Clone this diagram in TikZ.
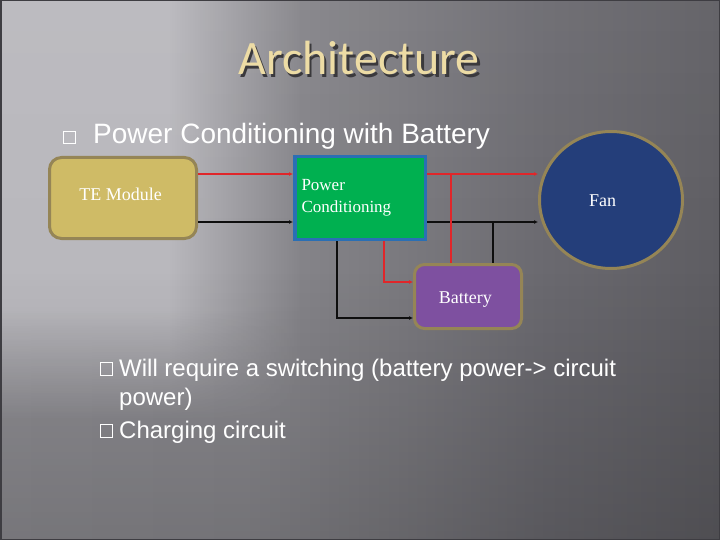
\documentclass[tikz,border=0pt]{standalone}
\usepackage{fontspec}
\setmainfont{Liberation Serif}
\newfontfamily\arialf{Liberation Sans}
\newfontfamily\titlef{Carlito}
\usetikzlibrary{arrows.meta,shapes.geometric,calc,fadings}
\definecolor{bgA}{HTML}{8E8D92}
\definecolor{bgB}{HTML}{8A898E}
\definecolor{bgC}{HTML}{7A797E}
\definecolor{bgD}{HTML}{6A696F}
\definecolor{bgE}{HTML}{5E5D62}
\definecolor{bgJoin}{HTML}{858489}
\definecolor{bglight}{HTML}{B9B8BD}
\definecolor{framec}{HTML}{3E3D42}
\definecolor{titlegold}{HTML}{EDDCA5}
\definecolor{titleshadow}{HTML}{3A393C}
\definecolor{khaki}{HTML}{958556}
\definecolor{tefill}{HTML}{CFBB66}
\definecolor{pcgreen}{HTML}{00B050}
\definecolor{pcblue}{HTML}{2A6FB4}
\definecolor{fanblue}{HTML}{243E7A}
\definecolor{batpurple}{HTML}{7E50A0}
\definecolor{wirered}{HTML}{E0262A}
\definecolor{wireblack}{HTML}{0E0E0E}
% horizontal base: bbox spans 25bp..75bp
\pgfdeclarehorizontalshading{bgshade}{100bp}{color(0bp)=(bgA); color(25bp)=(bgA); color(42bp)=(bgB); color(53bp)=(bgC); color(63bp)=(bgD); color(75bp)=(bgE); color(100bp)=(bgE)}
% light band over x = 0..300, ending in the base colour at x = 300
\pgfdeclarehorizontalshading{lightband}{100bp}{color(0bp)=(bglight); color(25bp)=(bglight); color(53bp)=(bglight); color(75bp)=(bgJoin); color(100bp)=(bgJoin)}
\begin{document}
\begin{tikzpicture}[x=1pt,y=-1pt,
  blockbox/.style={draw=khaki, line width=3pt, rounded corners=12pt},
  lbl/.style={text=white, inner sep=0pt, font=\fontsize{18}{22}\selectfont},
  bulletsq/.style={draw=white, line width=0.8pt, minimum width=12pt, minimum height=12.5pt, inner sep=0pt},
  bodytext/.style={text=white, inner sep=0pt, anchor=base west},
  redwire/.style={draw=wirered, line width=1.8pt},
  blackwire/.style={draw=wireblack, line width=1.8pt},
  tip/.style={-{Latex[length=4pt,width=4pt]}}
]
\useasboundingbox (0,0) rectangle (720,540);
% background
\shade[shading=bgshade] (0,0) rectangle (720,540);
\shade[shading=lightband] (0,0) rectangle (300,310);
\shade[shading=lightband, path fading=south] (0,310) rectangle (300,420);
\fill[white, path fading=south, fill opacity=0.05] (0,0) rectangle (720,270);
\fill[black, path fading=north, fill opacity=0.16] (0,270) rectangle (720,540);
\draw[framec, line width=3pt] (0,0) rectangle (720,540);

% title (with shadow)
\node (title)[anchor=base, inner sep=0pt, font=\titlef\fontsize{48}{54}\selectfont] at (359,75)
  {\makebox[0pt][l]{\hspace{2.5pt}\raisebox{-2.5pt}{\textcolor{titleshadow}{Architecture}}}\textcolor{titlegold}{Architecture}};

% bullet line
\node (b1)[bulletsq] at (69,137.5) {};
\node (t1)[bodytext, font=\arialf\fontsize{28}{32}\selectfont] at (93,144) {Power Conditioning with Battery};

% blocks
\node (te)[blockbox, fill=tefill, minimum width=147pt, minimum height=81pt] at (123,198) {};
\node (telbl)[lbl, anchor=base] at (120.5,201) {TE Module};
\node (pc)[draw=pcblue, line width=3.5pt, fill=pcgreen, minimum width=130.5pt, minimum height=82.5pt,
  text width=117pt, align=left, text=white, font=\fontsize{17}{22}\selectfont] at (360,198) {Power\\Conditioning};
\node (fan)[ellipse, draw=khaki, line width=3pt, fill=fanblue, minimum width=143pt, minimum height=137pt, inner sep=0pt] at (611,200) {};
\node (fanlbl)[lbl, anchor=base] at (602.5,207) {Fan};
\node (bat)[blockbox, rounded corners=10pt, fill=batpurple, minimum width=107pt, minimum height=64pt] at (468,296.5) {};
\node (batlbl)[lbl, anchor=base] at (465.3,303.3) {Battery};

% wires
\draw[redwire, tip] ([yshift=24pt]te.east) -- ([yshift=24pt]pc.west);
\draw[blackwire, tip] ([yshift=-24pt]te.east) -- ([yshift=-24pt]pc.west);
\draw[redwire, tip] ([yshift=24pt]pc.east) -- ([yshift=24pt]pc.east -| fan.west);
\draw[blackwire, tip] ([yshift=-24pt]pc.east) -- ([yshift=-24pt]pc.east -| fan.west);
\coordinate (rj) at (451,174);
\coordinate (bj) at (493,222);
\draw[redwire] (rj) -- (rj |- bat.north);
\draw[blackwire] (bj) -- (bj |- bat.north);
\draw[redwire, tip] (384,0 |- pc.south) |- ([yshift=14.5pt]bat.west);
\draw[blackwire, tip] (337,0 |- pc.south) |- ([yshift=-21.5pt]bat.west);

% bottom bullets
\node (b2)[bulletsq] at (106.5,369) {};
\node (t2)[bodytext, font=\arialf\fontsize{24}{28}\selectfont] at (119,376) {Will require a switching (battery power-> circuit};
\node (t3)[bodytext, font=\arialf\fontsize{24}{28}\selectfont] at (119,405) {power)};
\node (b3)[bulletsq] at (106.5,431) {};
\node (t4)[bodytext, font=\arialf\fontsize{24}{28}\selectfont] at (119,438) {Charging circuit};
\end{tikzpicture}
\end{document}
